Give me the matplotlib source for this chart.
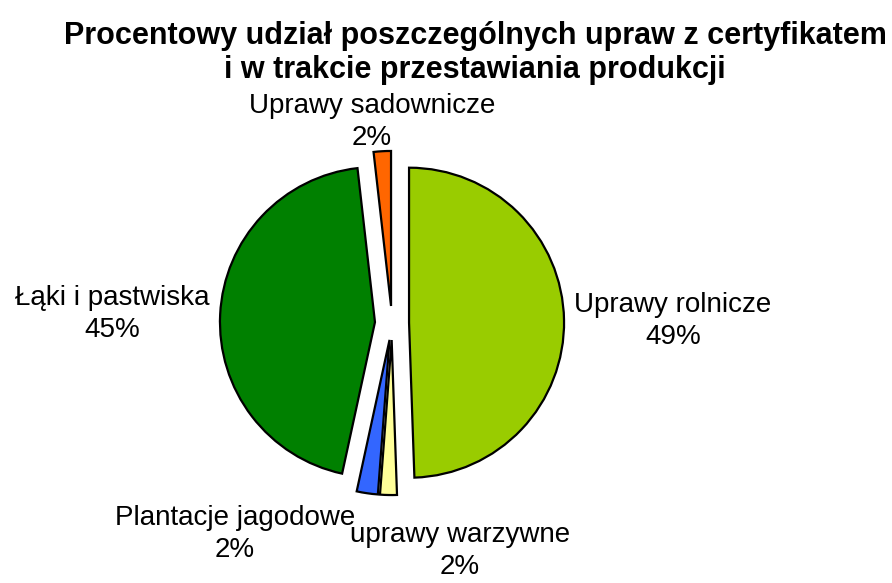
import matplotlib.pyplot as plt

plt.rcParams['font.family'] = ['Liberation Sans', 'DejaVu Sans']

# Udział upraw (%)
labels = ['Uprawy rolnicze', 'uprawy warzywne', 'Plantacje jagodowe',
          'Łąki i pastwiska', 'Uprawy sadownicze']
values = [49.45, 1.75, 2.2, 44.8, 1.8]
colors = ['#99CC00', '#FFFF99', '#3366FF', '#008000', '#FF6600']

fig = plt.figure(figsize=(8.92, 5.83), dpi=100)
ax = fig.add_axes([0, 0, 1, 1])

# pie centre / radius in pixels
cx, cy, r = 392, 323, 155

ax.pie(values, colors=colors, startangle=90, counterclock=False,
       explode=[0.11] * len(values), radius=1,
       wedgeprops=dict(edgecolor='black', linewidth=1.6))

ax.set_xlim(-cx / r, (892 - cx) / r)
ax.set_ylim(-(583 - cy) / r, cy / r)
ax.set_aspect('auto')
ax.axis('off')


def px(x, y):
    return (x - cx) / r, (cy - y) / r


label_pos = [(673, 321), (460, 551), (235, 534), (112, 314), (372, 122)]
for lab, v, (x, y) in zip(labels, values, label_pos):
    tx, ty = px(x, y)
    ax.text(tx, ty, f'{lab}\n{v:.0f}%', ha='center', va='center',
            fontsize=20, linespacing=1.3)

fig.text(0.5325, 1 - 53 / 583,
         'Procentowy udział poszczególnych upraw z certyfikatem\ni w trakcie przestawiania produkcji',
         ha='center', va='center', fontsize=22, fontweight='bold', linespacing=1.15)

fig.savefig('out.png', dpi=100)
